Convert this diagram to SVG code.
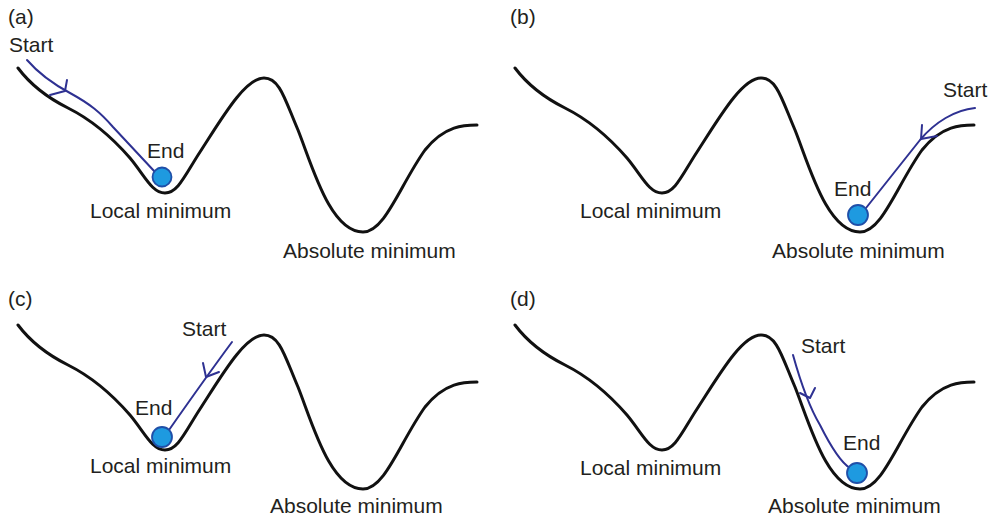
<svg xmlns="http://www.w3.org/2000/svg" xmlns:xlink="http://www.w3.org/1999/xlink" width="995" height="519" viewBox="0 0 995 519">
<style>
.land{fill:none;stroke:#111;stroke-width:3;stroke-linecap:round;stroke-linejoin:round}
.path{fill:none;stroke:#2e3192;stroke-width:2;stroke-linecap:round;stroke-linejoin:round}
.ball{fill:#1e9ae0;stroke:#1f4fa8;stroke-width:1.8}
text{font-family:"Liberation Sans",Arial,sans-serif;font-size:21px;fill:#231f20}
</style>
<defs>
<path id="landscape" class="land" d="M18,68 C30,84 48,98 68,108 C90,119 110,135 130,158 C145,176 152,193 165,193 C178,193 185,175 200,152 C222,118 245,78 264,78 C280,78 285,100 298,130 C312,165 330,232 363,232 C385,232 400,185 425,150 C445,125 465,125 477,125"/>
</defs>
<rect width="995" height="519" fill="#fff"/>
<g id="panel-a">
<use xlink:href="#landscape" href="#landscape"/>
<text x="8" y="24">(a)</text>
<text x="9" y="52">Start</text>
<text x="147" y="158">End</text>
<text x="90" y="218">Local minimum</text>
<text x="283" y="258">Absolute minimum</text>
<g id="connectors-a">
<path class="path" d="M27,60 C40,75 55,85 70,93 C90,104 100,112 113,127 L155,172"/>
<path class="path" d="M67,80 L65,91 L50,95"/>
</g>
<circle class="ball" cx="162" cy="177" r="9.5"/>
</g>
<g id="panel-b">
<use xlink:href="#landscape" href="#landscape" transform="translate(497,0)"/>
<text x="510" y="24">(b)</text>
<text x="943" y="97">Start</text>
<text x="834" y="196">End</text>
<text x="580" y="218">Local minimum</text>
<text x="772" y="258">Absolute minimum</text>
<g id="connectors-b">
<path class="path" d="M975,108 C955,110 935,122 920,140 L866,208"/>
<path class="path" d="M922,125 L921,139 L937,136"/>
</g>
<circle class="ball" cx="858" cy="215" r="10"/>
</g>
<g id="panel-c">
<use xlink:href="#landscape" href="#landscape" transform="translate(0,257)"/>
<text x="8" y="306">(c)</text>
<text x="182" y="336">Start</text>
<text x="135" y="415">End</text>
<text x="90" y="473">Local minimum</text>
<text x="270" y="513">Absolute minimum</text>
<g id="connectors-c">
<path class="path" d="M232,342 C215,365 190,400 169,430"/>
<path class="path" d="M203,363 L206,377 L219,372"/>
</g>
<circle class="ball" cx="162" cy="437" r="10"/>
</g>
<g id="panel-d">
<use xlink:href="#landscape" href="#landscape" transform="translate(497,257)"/>
<text x="510" y="306">(d)</text>
<text x="801" y="353">Start</text>
<text x="843" y="450">End</text>
<text x="580" y="475">Local minimum</text>
<text x="768" y="513">Absolute minimum</text>
<g id="connectors-d">
<path class="path" d="M793,355 C800,380 808,405 820,425 C830,445 840,462 850,468"/>
<path class="path" d="M800,393 L810,398 L815,388"/>
</g>
<circle class="ball" cx="857" cy="473" r="10"/>
</g>
</svg>
